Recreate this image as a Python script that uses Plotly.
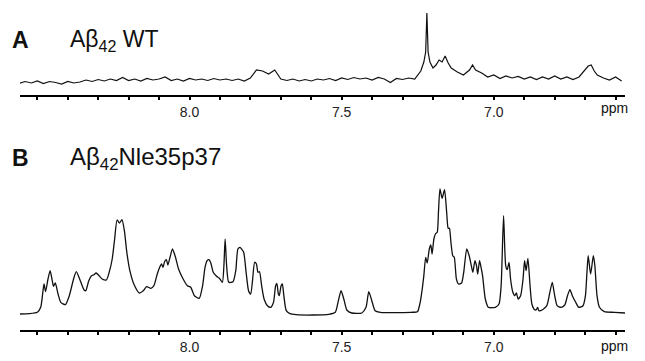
import plotly.graph_objects as go

# ---- Panel A: Abeta42 WT (chemical shift ppm, intensity a.u.) ----
ppm_wt = [8.56, 8.54, 8.52, 8.50, 8.48, 8.46, 8.44, 8.42, 8.40, 8.38, 8.36, 8.34, 8.32, 8.30,
          8.28, 8.26, 8.24, 8.22, 8.20, 8.18, 8.16, 8.14, 8.12, 8.10, 8.08, 8.06, 8.04, 8.02,
          8.00, 7.98, 7.96, 7.94, 7.92, 7.90, 7.88, 7.86, 7.84, 7.82, 7.80, 7.78, 7.76, 7.74,
          7.72, 7.70, 7.68, 7.66, 7.64, 7.62, 7.60, 7.58, 7.56, 7.54, 7.52, 7.50, 7.48, 7.46,
          7.44, 7.42, 7.40, 7.38, 7.36, 7.34, 7.32, 7.30, 7.28, 7.26, 7.24, 7.23, 7.224, 7.220,
          7.216, 7.21, 7.20, 7.19, 7.18, 7.17, 7.16, 7.15, 7.14, 7.12, 7.10, 7.08, 7.07, 7.06,
          7.04, 7.02, 7.00, 6.98, 6.96, 6.94, 6.92, 6.90, 6.88, 6.86, 6.84, 6.82, 6.80, 6.78,
          6.76, 6.74, 6.72, 6.70, 6.69, 6.68, 6.67, 6.66, 6.64, 6.62, 6.60, 6.58]
int_wt = [-1.5, 0.5, -1, 1, -1.5, 0.5, -0.5, -2, 0.5, -1, 0, 2, 0.5, 2.5,
          1, 3, 1.5, 4.5, 1.5, 3, 1, 3.5, 2, 3, 5, 1.5, 3, 1,
          3.5, 2, 3, 1.5, 3.5, 2, 3, 1.5, 3, 1, 4, 12, 11, 8,
          12, 3, 1.5, 3, 1, 2.5, 1, 3, 2, 3.5, 1.5, 4, 2.5, 4.5,
          3, 4, 2, 4.5, 3, -0.5, 3.5, 2.5, 4, 3, 11, 20, 30, 69,
          30, 20, 14, 17, 22, 20, 26, 19, 14, 10, 7, 12, 17, 12,
          9, 5, 7, 3.5, 6, 4, 5.5, 3, 5, 2.5, 5, 3, 6, 3,
          5, 2.5, 5, 13, 16, 17, 11, 7, 4, 2, 5, 1]

# ---- Panel B: Abeta42Nle35p37 ----
ppm_mut = [8.557, 8.527, 8.500, 8.489, 8.482, 8.478, 8.473, 8.465, 8.458, 8.451, 8.447, 8.441,
           8.432, 8.423, 8.408, 8.395, 8.381, 8.372, 8.361, 8.347, 8.341, 8.331, 8.322, 8.314,
           8.307, 8.297, 8.287, 8.273, 8.264, 8.254, 8.246, 8.238, 8.230, 8.222, 8.214, 8.206,
           8.196, 8.183, 8.165, 8.152, 8.141, 8.127, 8.117, 8.106, 8.098, 8.092, 8.087, 8.082,
           8.076, 8.071, 8.064, 8.056, 8.046, 8.036, 8.021, 8.007, 7.996, 7.984, 7.968, 7.957,
           7.949, 7.942, 7.936, 7.930, 7.922, 7.911, 7.902, 7.892, 7.887, 7.883, 7.878, 7.871,
           7.857, 7.848, 7.841, 7.834, 7.829, 7.822, 7.814, 7.806, 7.799, 7.793, 7.786, 7.780,
           7.775, 7.770, 7.763, 7.755, 7.744, 7.733, 7.724, 7.717, 7.713, 7.708, 7.705, 7.699,
           7.695, 7.690, 7.682, 7.670, 7.649, 7.595, 7.542, 7.521, 7.512, 7.502, 7.493, 7.483,
           7.467, 7.434, 7.420, 7.411, 7.401, 7.390, 7.373, 7.325, 7.272, 7.251, 7.242, 7.235,
           7.230, 7.224, 7.219, 7.212, 7.207, 7.203, 7.197, 7.192, 7.186, 7.182, 7.177, 7.170,
           7.162, 7.155, 7.150, 7.146, 7.141, 7.135, 7.130, 7.123, 7.116, 7.106, 7.099, 7.089,
           7.081, 7.074, 7.069, 7.062, 7.057, 7.053, 7.047, 7.042, 7.037, 7.028, 7.018, 6.995,
           6.983, 6.976, 6.968, 6.961, 6.956, 6.950, 6.945, 6.938, 6.931, 6.926, 6.920, 6.912,
           6.904, 6.899, 6.894, 6.888, 6.881, 6.875, 6.866, 6.860, 6.856, 6.852, 6.840, 6.826,
           6.817, 6.808, 6.800, 6.792, 6.779, 6.767, 6.758, 6.750, 6.742, 6.731, 6.721, 6.707,
           6.699, 6.694, 6.690, 6.682, 6.673, 6.668, 6.661, 6.653, 6.637, 6.603, 6.569]
int_mut = [-1, -0.7, 0.7, 5.7, 20.7, 29, 21.3, 34, 42.3, 32.3, 26.7, 30,
           19, 10.7, 8.3, 17.3, 34, 41.3, 34, 23.3, 22.3, 32.3, 37.3, 38.3,
           40, 37.3, 34, 33, 40.7, 54, 74, 93, 90, 93.3, 82.3, 60.7,
           42.3, 29, 20, 22.3, 26.3, 24.7, 27.3, 39, 45.7, 49, 45.7, 51.3,
           53.3, 48, 55.7, 64, 55.7, 44, 34, 27.3, 25.7, 17.3, 14.7, 27.3,
           45.7, 52.3, 53.3, 50, 40.7, 36.7, 34.7, 30.7, 47.3, 74, 47.3, 30.7,
           31.3, 42.3, 64, 65.7, 64, 60.7, 40.7, 22.3, 19, 32.3, 50.7, 49,
           40.7, 41.3, 27.3, 14, 7.3, 5.7, 10.7, 27.3, 29.7, 19, 17.3, 27.3,
           29, 17.3, 2.3, -0.7, -1.7, -2, -1.3, 0.7, 10.7, 22.3, 14, 3,
           0, 0, 5.7, 21.3, 12.3, 2.3, 0.7, 0.3, 0.7, 1.3, 10.7, 24.7,
           37.3, 55.7, 50, 64, 68, 59, 74, 79, 80.7, 100.7, 124, 114.7,
           123.3, 100.7, 84.7, 84.7, 70.7, 57.3, 55.7, 34, 29, 30, 40.7, 64,
           57.3, 47.3, 40.7, 52.3, 47.3, 39, 52.3, 45.7, 37.3, 14, 5.7, 5.7,
           9, 27.3, 97.3, 47.3, 43.3, 50.7, 34, 21.3, 17.3, 20, 14, 17.3,
           34, 52.3, 42.3, 54.7, 27.3, 9, 3.3, 3.3, 5.7, 2.3, 3.3, 7.3,
           19, 30.7, 17.3, 7.3, 5.7, 8, 17.3, 23.3, 17.3, 10.7, 5.7, 7.3,
           17.3, 40.7, 57.3, 39, 57.3, 47.3, 17.3, 5.7, 1.3, 0.7, 0]

x_range = [8.557, 6.569]
tick_vals = [8.5, 8.4, 8.3, 8.2, 8.1, 8.0, 7.9, 7.8, 7.7, 7.6, 7.5, 7.4, 7.3, 7.2, 7.1,
             7.0, 6.9, 6.8, 6.7, 6.6]
tick_text = [" " if v not in (8.0, 7.5, 7.0) else f"{v:.1f}" for v in tick_vals]

W, H = 645, 361
FONT = "Arial, Liberation Sans, Helvetica, sans-serif"

fig = go.Figure()
fig.add_trace(go.Scatter(x=ppm_wt, y=int_wt, mode="lines", xaxis="x", yaxis="y",
                         line=dict(color="#111111", width=1.2), showlegend=False))
fig.add_trace(go.Scatter(x=ppm_mut, y=int_mut, mode="lines", xaxis="x2", yaxis="y2",
                         line=dict(color="#111111", width=1.3, shape="spline", smoothing=0.6),
                         showlegend=False))

xdom = [20 / W, 625 / W]
axis_common = dict(range=x_range, domain=xdom, showline=True, linewidth=2, linecolor="black",
                   ticks="outside", ticklen=3, tickwidth=1.5, tickcolor="black",
                   tickvals=tick_vals, ticktext=tick_text, showgrid=False, zeroline=False,
                   tickfont=dict(family=FONT, size=14, color="#222"))
fig.update_layout(
    width=W, height=H, margin=dict(l=0, r=0, t=0, b=0),
    paper_bgcolor="white", plot_bgcolor="white",
    xaxis=dict(anchor="y", **axis_common),
    xaxis2=dict(anchor="y2", **axis_common),
    yaxis=dict(domain=[1 - 95 / H, 1.0], range=[-13, 82], visible=False),
    yaxis2=dict(domain=[1 - 330 / H, 1 - 180 / H], range=[-17, 133], visible=False),
)

def ann(text, x, y, size, bold=False, xanchor="left"):
    fig.add_annotation(text=(f"<b>{text}</b>" if bold else text), x=x / W, y=1 - y / H,
                       xref="paper", yref="paper", xanchor=xanchor, yanchor="middle",
                       showarrow=False, font=dict(family=FONT, size=size, color="#111"))

ann("A", 10, 40, 23, bold=True)
ann("Aβ<sub>42</sub> WT", 68, 40, 23)
ann("B", 10, 158, 23, bold=True)
ann("Aβ<sub>42</sub>Nle35p37", 68, 158, 24)
ann("ppm", 630, 108, 14, xanchor="right")
ann("ppm", 630, 346, 14, xanchor="right")

fig.write_html("out.html", config={"displayModeBar": False},
               post_script="document.body.style.margin='0';")
